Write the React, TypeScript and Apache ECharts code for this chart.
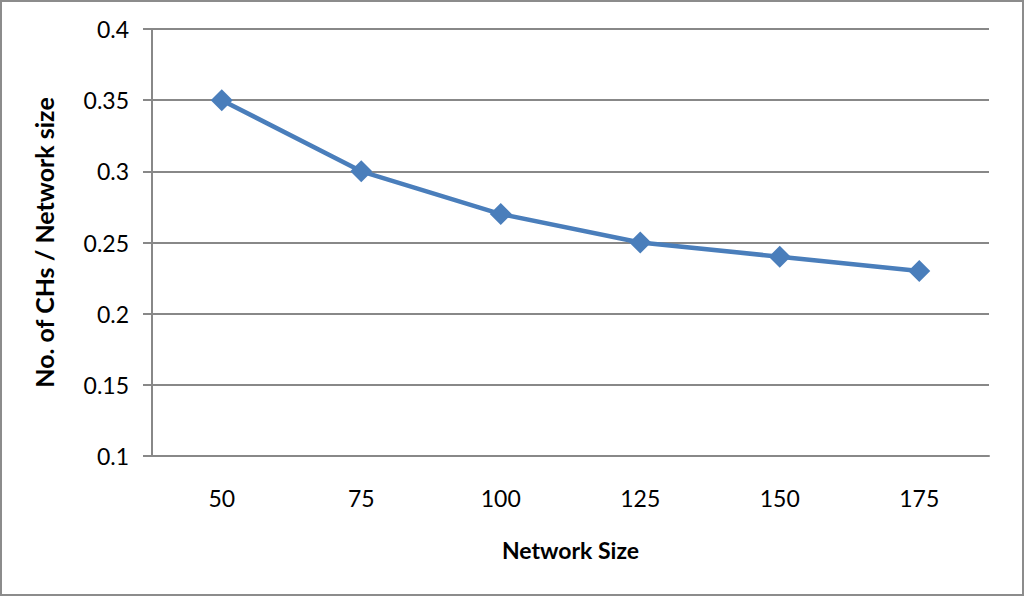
import React, { useEffect, useRef } from "react";
import * as echarts from "echarts";

const categories = ["50", "75", "100", "125", "150", "175"];
const values = [0.35, 0.3, 0.27, 0.25, 0.24, 0.23];
const xTitle = "Network Size";
const yTitle = "No. of CHs / Network size";

export default function App() {
  const ref = useRef<HTMLDivElement>(null);
  useEffect(() => {
    const chart = echarts.init(ref.current!, null, { renderer: "svg" });
    const font = "Lato, 'Open Sans', sans-serif";
    chart.setOption({
      animation: false,
      backgroundColor: "#fff",
      grid: { left: 152, right: 35, top: 29, bottom: 140 },
      xAxis: {
        type: "category",
        data: categories,
        boundaryGap: true,
        name: xTitle,
        nameLocation: "middle",
        nameGap: 82,
        nameTextStyle: { fontFamily: font, fontSize: 23, fontWeight: "bold", color: "#000" },
        axisLine: { lineStyle: { color: "#888", width: 2 } },
        axisTick: { show: false },
        axisLabel: { fontFamily: font, fontSize: 23, color: "#000", margin: 30 },
        splitLine: { show: false },
      },
      yAxis: {
        type: "value",
        min: 0.1,
        max: 0.4,
        interval: 0.05,
        name: yTitle,
        nameLocation: "middle",
        nameGap: 96,
        nameTextStyle: { fontFamily: font, fontSize: 25, fontWeight: "bold", color: "#000" },
        axisLine: { show: true, lineStyle: { color: "#888", width: 2 } },
        axisTick: { show: true, length: 9, lineStyle: { color: "#888", width: 2 } },
        axisLabel: {
          fontFamily: font,
          fontSize: 23,
          color: "#000",
          margin: 23,
          formatter: (v: number) => String(parseFloat(v.toFixed(2))),
        },
        splitLine: { lineStyle: { color: "#888", width: 2 } },
      },
      series: [
        {
          type: "line",
          data: values,
          symbol: "diamond",
          symbolSize: 22,
          lineStyle: { color: "#4a7ebb", width: 4.5 },
          itemStyle: { color: "#4a7ebb" },
        },
      ],
    });
    return () => chart.dispose();
  }, []);
  return (
    <div style={{ position: "fixed", left: 0, top: 0, width: 1024, height: 596, background: "#fff" }}>
      <div ref={ref} style={{ position: "absolute", left: 0, top: 0, width: 1024, height: 596 }} />
      <div
        style={{
          position: "absolute",
          left: 0,
          top: 0,
          width: 1024,
          height: 596,
          boxSizing: "border-box",
          border: "2px solid #8c8c8c",
          pointerEvents: "none",
        }}
      />
    </div>
  );
}
